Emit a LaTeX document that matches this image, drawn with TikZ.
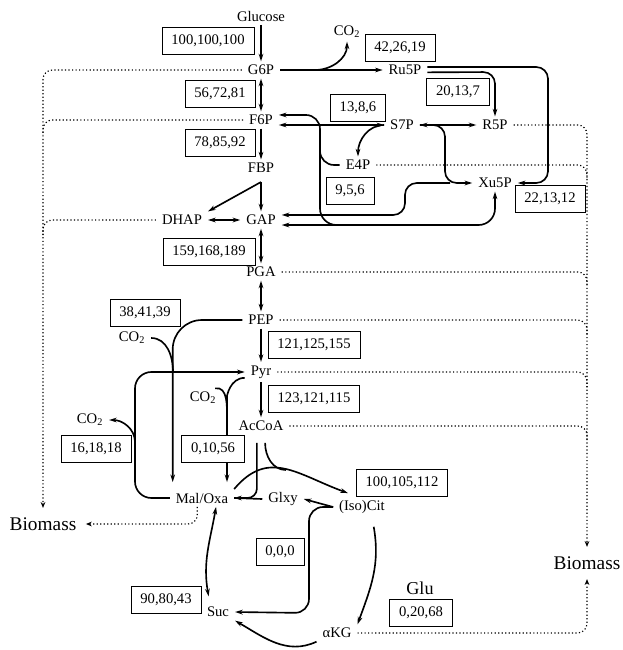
\documentclass[tikz,border=0pt]{standalone}
\usepackage{fontspec}
\setmainfont{Liberation Serif}
\usetikzlibrary{arrows.meta,positioning,calc}

\begin{document}
\begin{tikzpicture}[x=0.03cm,y=0.03cm,
    met/.style={inner xsep=5pt,inner ysep=3pt,font=\fontsize{12.5}{14}\selectfont},
    biomass/.style={met,inner sep=8pt,font=\fontsize{16.5}{19}\selectfont},
    numbox/.style={draw,fill=white,line width=0.8pt,inner xsep=8pt,minimum height=23pt,font=\fontsize{12.5}{14}\selectfont},
    flow/.style={line width=1.4pt,-{Stealth[length=6.5pt,width=4pt]}},
    flowboth/.style={line width=1.4pt,{Stealth[length=6.5pt,width=4pt]}-{Stealth[length=6.5pt,width=4pt]}},
    plain/.style={line width=1.4pt},
    bio/.style={line width=1pt,dotted,rounded corners=8pt},
    bioarrow/.style={bio,-{Stealth[length=5pt,width=4pt]}}]
    \useasboundingbox (0,0) rectangle (623,-650);

    \node[met] (glc) at (261,-16) {Glucose};
    \node[met] (g6p) at (261,-70) {G6P};
    \node[met] (f6p) at (261,-120) {F6P};
    \node[met] (fbp) at (261,-168) {FBP};
    \node[met] (dhap) at (182,-220) {DHAP};
    \node[met] (gap) at (261,-220) {GAP};
    \node[met] (pga) at (261,-272) {PGA};
    \node[met] (pep) at (261,-320) {PEP};
    \node[met] (pyr) at (261,-372) {Pyr};
    \node[met] (accoa) at (261,-426) {AcCoA};

    \node[met] (ru5p) at (405,-70) {Ru5P};
    \node[met] (s7p) at (402,-125) {S7P};
    \node[met] (r5p) at (495,-125) {R5P};
    \node[met] (e4p) at (358,-165) {E4P};
    \node[met] (xu5p) at (495,-183) {Xu5P};

    \node[met] (mal) at (202,-498) {Mal/Oxa};
    \node[met] (glxy) at (283,-499) {Glxy};
    \node[met] (cit) at (362,-507) {(Iso)Cit};
    \node[met] (suc) at (218,-612) {Suc};
    \node[met] (akg) at (337,-633) {αKG};
    \node[met,font=\fontsize{15.5}{17}\selectfont] (glu) at (420,-588) {Glu};

    \node[met] (co2a) at (347,-32) {CO\textsubscript{2}};
    \node[met] (co2b) at (132,-338) {CO\textsubscript{2}};
    \node[met] (co2c) at (203,-398) {CO\textsubscript{2}};
    \node[met] (co2d) at (90,-420) {CO\textsubscript{2}};

    \node[biomass] (bmL) at (43,-524) {Biomass};
    \node[biomass] (bmR) at (587,-563) {Biomass};

    \coordinate (fbpfork) at (261,-182);
    \coordinate (co2fork) at (315,-70);
    \coordinate (tkdown) at (320,-150);
    \coordinate (tkgap) at (340,-225);
    \coordinate (tkxu) at (450,-183);
    \coordinate (co2bjoin) at (173,-372);
    \coordinate (malpyr) at (135,-372);
    \coordinate (co2dfork) at (135,-442);
    \coordinate (pyrmal) at (227,-412);
    \coordinate (co2cjoin) at (227,-420);
    \coordinate (malN) at ([yshift=6pt]mal.north);
    \coordinate (accoaL) at ([shift={(-3.5pt,-7pt)}]accoa.south);
    \coordinate (accoaR) at ([shift={(3.5pt,-7pt)}]accoa.south);
    \coordinate (citjoin) at (286,-470);

    \draw[flow] (glc) -- (g6p);
    \draw[flowboth] (g6p) -- (f6p);
    \draw[flow] (f6p) -- (fbp);
    \draw[flow] (fbpfork) -- (gap);
    \draw[flow] (fbpfork) -- (dhap.north east);
    \draw[flowboth] (dhap) -- (gap);
    \draw[flowboth] (gap) -- (pga);
    \draw[flowboth] (pga) -- (pep);
    \draw[flow] (pep) -- (pyr);
    \draw[flow] (pyr) -- (accoa);

    \draw[flow] (g6p) -- (ru5p);
    \draw[flow] (co2fork) to[out=0,in=-90] (co2a.south);
    \draw[flow,rounded corners=10pt] ([yshift=2.5pt]ru5p.east) -- (548,-67) -- (548,-183) -- (xu5p.east);
    \draw[flow,rounded corners=10pt] ([yshift=-2pt]ru5p.east) -- (495,-72) -- (r5p.north);
    \draw[flowboth] (f6p.east |- s7p) -- (s7p.west);
    \draw[flowboth] (s7p) -- (r5p);
    \draw[flow] (s7p.west) to[out=180,in=90] (e4p.north);
    \draw[flow,rounded corners=10pt] (s7p.east) -- (445,-125) -- (445,-183) -- (xu5p.west);
    \draw[flow,rounded corners=12pt] (e4p.west) -- (320,-165) -- (320,-115) -- ([yshift=4.3pt]f6p.east);
    \draw[flow,rounded corners=14pt] (tkdown) -- (320,-225) -- (495,-225) -- (xu5p.south);
    \draw[flow] (tkgap) -- ([yshift=-4.3pt]gap.east);
    \draw[flow,rounded corners=10pt] (tkxu) -- (405,-183) -- (405,-215) -- ([yshift=4.3pt]gap.east);

    \draw[flow,rounded corners=25pt] (pep.west) -| ([xshift=-25pt]malN);
    \draw[plain] (co2b.east) to[out=0,in=90] (co2bjoin);
    \draw[flow,rounded corners=14pt] (mal.west) -| (malpyr) -- (pyr.west);
    \draw[flow] (co2dfork) to[out=90,in=0] (co2d.east);
    \draw[flow,rounded corners=14pt] ([yshift=-5pt]pyr.west) to[out=180,in=90] (pyrmal) -- (pyrmal |- malN);
    \draw[plain] ([xshift=-6pt]co2c.north east) to[out=10,in=90] (co2cjoin);

    \draw[flow,rounded corners=8pt] (accoaL) -- (accoaL |- mal.east) -- (mal.east);
    \draw[plain] (glxy.west) -- (mal.east);
    \draw[flow] (mal.north east) to[out=50,in=160,looseness=1.2] ([shift={(-12pt,3pt)}]cit.north);
    \draw[plain] (accoaR) to[out=-90,in=180] (citjoin);
    \draw[flow] (cit.west) -- (glxy.east);
    \draw[flow,rounded corners=12pt] (cit.west) -- (309,-507) -- (309,-613) -- (suc.east);
    \draw[flow] ([shift={(10pt,-8pt)}]cit.south) to[out=-80,in=70] (akg.north east);
    \draw[flow] (akg.south west) to[out=-155,in=-30] (suc.south east);
    \draw[flowboth] ([shift={(-8pt,6pt)}]suc.north) to[out=100,in=-100] ([xshift=12pt]mal.south);

    \draw[bioarrow] (g6p.west) -| (bmL.north);
    \draw[bio] (f6p.west) -- (bmL.north |- f6p.west) -- ++(0,-15);
    \draw[bio] (dhap.west) -- (bmL.north |- dhap.west) -- ++(0,-15);
    \draw[bioarrow] ([xshift=-4pt]mal.south) |- (bmL.east);
    \draw[bioarrow] (r5p.east) -| (bmR.north);
    \draw[bio] (e4p.east) -- (bmR.north |- e4p.east) -- ++(0,-15);
    \draw[bio] (pga.east) -- (bmR.north |- pga.east) -- ++(0,-15);
    \draw[bio] (pep.east) -- (bmR.north |- pep.east) -- ++(0,-15);
    \draw[bio] (pyr.east) -- (bmR.north |- pyr.east) -- ++(0,-15);
    \draw[bio] (accoa.east) -- (bmR.north |- accoa.east) -- ++(0,-15);
    \draw[bioarrow] (akg.east) -| (bmR.south);

    \node[numbox] (f1) at (208,-41) {100,100,100};
    \node[numbox] (f2) at (400,-48) {42,26,19};
    \node[numbox] (f3) at (220,-94) {56,72,81};
    \node[numbox] (f4) at (220,-143) {78,85,92};
    \node[numbox] (f5) at (458,-92) {20,13,7};
    \node[numbox] (f6) at (358,-108) {13,8,6};
    \node[numbox] (f7) at (350,-191) {9,5,6};
    \node[numbox] (f8) at (550,-199) {22,13,12};
    \node[numbox] (f9) at (209,-252) {159,168,189};
    \node[numbox] (f10) at (145,-313) {38,41,39};
    \node[numbox] (f11) at (314,-345) {121,125,155};
    \node[numbox] (f12) at (314,-399) {123,121,115};
    \node[numbox] (f13) at (96,-449) {16,18,18};
    \node[numbox] (f14) at (213,-449) {0,10,56};
    \node[numbox] (f15) at (402,-483) {100,105,112};
    \node[numbox] (f16) at (280,-552) {0,0,0};
    \node[numbox] (f17) at (166,-600) {90,80,43};
    \node[numbox] (f18) at (421,-613) {0,20,68};
\end{tikzpicture}
\end{document}
